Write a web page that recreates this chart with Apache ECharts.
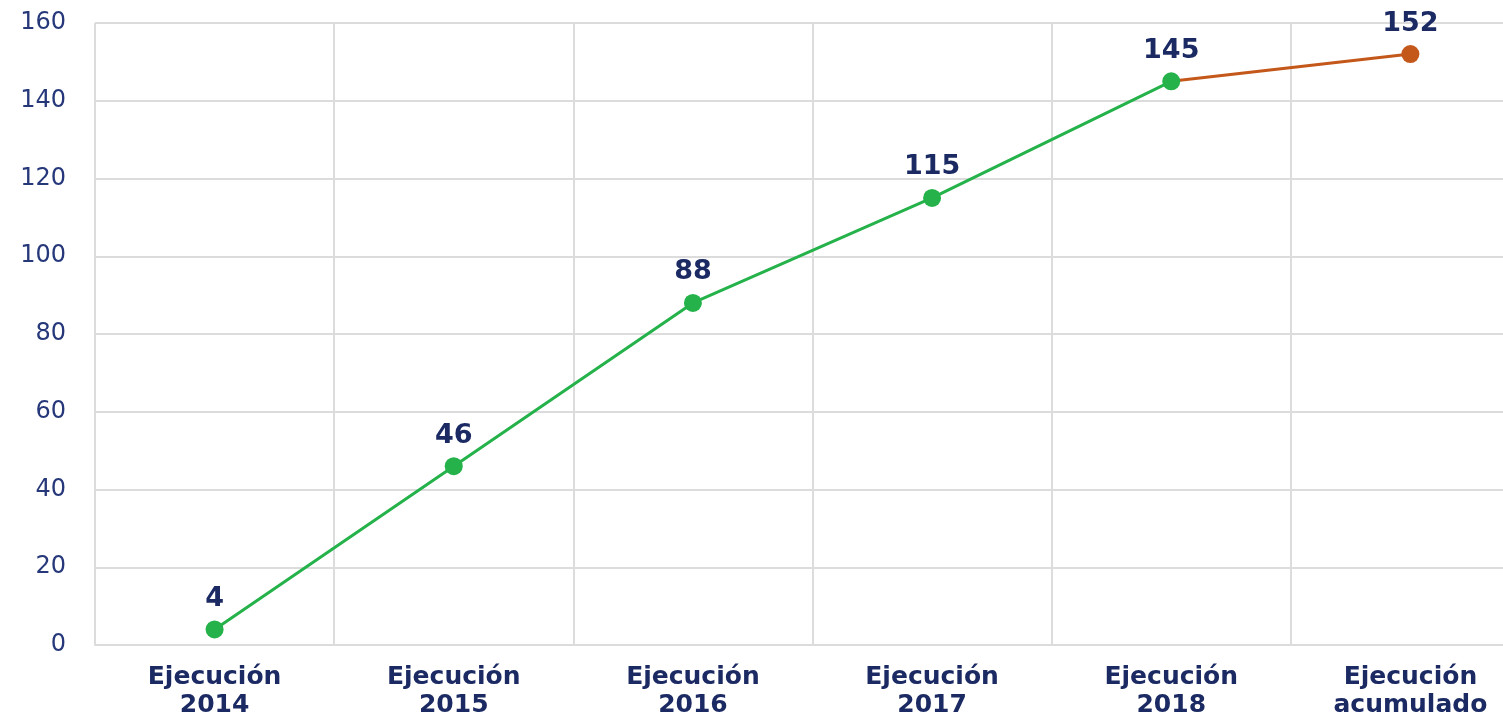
<!DOCTYPE html>
<html><head><meta charset="utf-8">
<script src="https://cdn.jsdelivr.net/npm/echarts@6/dist/echarts.min.js"></script>
<style>html,body{margin:0;padding:0;background:#fff}#c{width:1503px;height:721px}</style>
</head><body><div id="c"></div>
<script>
const categories = ['Ejecución\n2014','Ejecución\n2015','Ejecución\n2016','Ejecución\n2017','Ejecución\n2018','Ejecución\nacumulado'];
const annualValues = [4, 46, 88, 115, 145, null];
const cumulativeValues = [null, null, null, null, 145, 152];
const yTicks = {min: 0, max: 160, interval: 20};

const navy = '#1b2a63';
const font = 'DejaVu Sans';
const chart = echarts.init(document.getElementById('c'));
chart.setOption({
  animation: false,
  grid: {left: 95, width: 1435, top: 23, bottom: 76, outerBoundsMode: 'none', containLabel: false, show: false},
  xAxis: {
    type: 'category', data: categories, boundaryGap: true,
    axisLine: {show: true, lineStyle: {color: '#dcdcdc', width: 2}},
    axisTick: {show: false},
    splitLine: {show: true, lineStyle: {color: '#dcdcdc', width: 2}},
    axisLabel: {color: navy, fontFamily: font, fontWeight: 'bold', fontSize: 25, lineHeight: 28, margin: 18, interval: 0}
  },
  yAxis: {
    type: 'value', min: yTicks.min, max: yTicks.max, interval: yTicks.interval,
    axisLine: {show: false}, axisTick: {show: false},
    splitLine: {lineStyle: {color: '#dcdcdc', width: 2}},
    axisLabel: {color: '#26387a', fontFamily: font, fontSize: 24, margin: 29}
  },
  series: [
    {
      type: 'line', data: cumulativeValues.map((v,i)=> i===4 ? {value: v, symbol: 'none', label:{show:false}} : v),
      color: '#c4571a', symbol: 'circle', symbolSize: 18, lineStyle: {width: 3, color: '#c4571a'},
      itemStyle: {color: '#c4571a'}, z: 2,
      label: {show: true, position: 'top', distance: 8, color: navy, fontFamily: font, fontWeight: 'bold', fontSize: 27}
    },
    {
      type: 'line', data: annualValues,
      color: '#25b24a', symbol: 'circle', symbolSize: 18, lineStyle: {width: 3, color: '#25b24a'},
      itemStyle: {color: '#25b24a'}, z: 3,
      label: {show: true, position: 'top', distance: 8, color: navy, fontFamily: font, fontWeight: 'bold', fontSize: 27}
    }
  ]
});
</script></body></html>
